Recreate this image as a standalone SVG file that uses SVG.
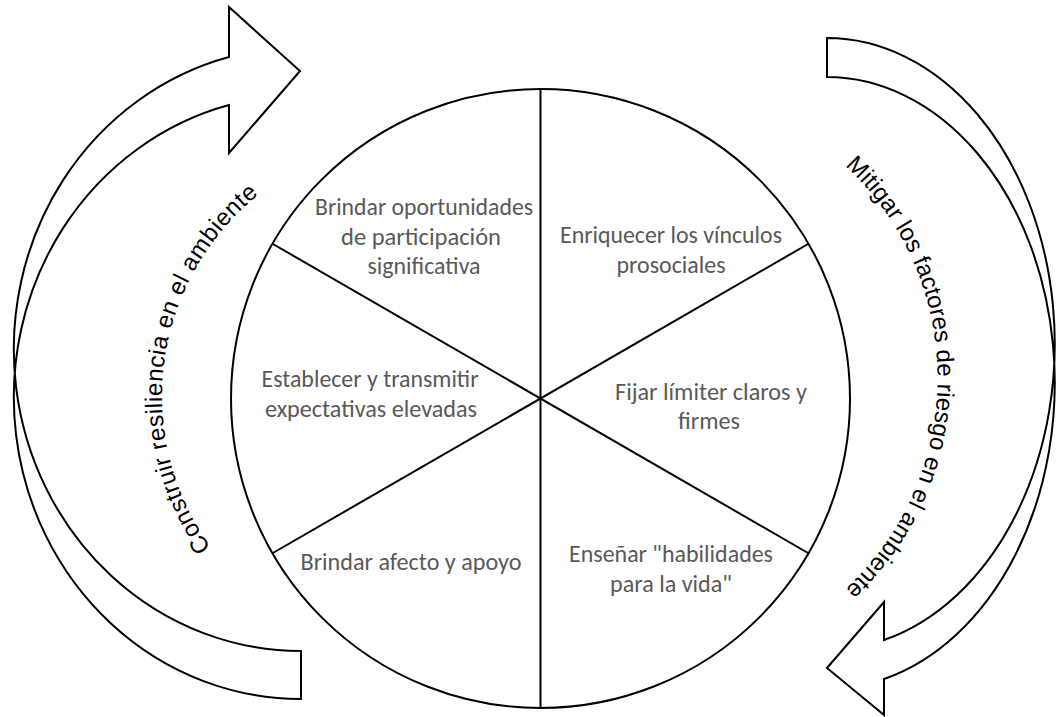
<svg xmlns="http://www.w3.org/2000/svg" width="1059" height="717" viewBox="0 0 1059 717">
<style>
.shape{fill:#ffffff;stroke:#000000;stroke-width:2;stroke-linejoin:miter}
.spoke{fill:none;stroke:#000000;stroke-width:2}
.in{font-family:Carlito,Lato,"Noto Sans",sans-serif;font-size:24px;fill:#595959;text-anchor:middle}
.arc{font-family:"Liberation Sans",Arial,sans-serif;font-size:24px;fill:#000000}
</style>
<defs>
<path id="pl" d="M262.1,600 A258,258 0 0 1 322.3,157.2"/>
<path id="pr" d="M793,127.2 A289,289 0 0 1 793,627.8"/>
</defs>
<rect width="1059" height="717" fill="#ffffff"/>
<g id="connectors">
<g id="arrow-left">
<path class="shape" d="M301,699 A287,301.8 0 0 1 229,105 L229,153 L300,71 L229,7 L229,57 A287,301.8 0 0 0 301,651 Z"/>
<text class="arc" font-size="25" letter-spacing="0.5"><textPath href="#pl" startOffset="50%" text-anchor="middle">Construir resiliencia en el ambiente</textPath></text>
</g>
<g id="arrow-right">
<path class="shape" d="M827,38 A228,305.9 0 0 1 884,640 L884,602 L827,668 L884,715 L884,679 A228,305.9 0 0 0 827,77 Z"/>
<text class="arc" letter-spacing="0.1"><textPath href="#pr" startOffset="50%" text-anchor="middle">Mitigar los factores de riesgo en el ambiente</textPath></text>
</g>
</g>
<g id="wheel">
<circle class="shape" cx="540.5" cy="398.5" r="309.5"/>
<line class="spoke" x1="540.5" y1="89" x2="540.5" y2="708"/>
<line class="spoke" x1="272.5" y1="243.75" x2="808.5" y2="553.25"/>
<line class="spoke" x1="272.5" y1="553.25" x2="808.5" y2="243.75"/>
</g>
<g id="sector-oportunidades">
<text class="in" x="424" y="215" textLength="218" lengthAdjust="spacingAndGlyphs">Brindar oportunidades</text>
<text class="in" x="421" y="244.5" textLength="160" lengthAdjust="spacingAndGlyphs">de participación</text>
<text class="in" x="424" y="273.5" textLength="113" lengthAdjust="spacingAndGlyphs">significativa</text>
</g>
<g id="sector-vinculos">
<text class="in" x="671" y="243" textLength="222" lengthAdjust="spacingAndGlyphs">Enriquecer los vínculos</text>
<text class="in" x="671" y="272.5" textLength="109" lengthAdjust="spacingAndGlyphs">prosociales</text>
</g>
<g id="sector-limites">
<text class="in" x="711" y="399.5" textLength="192" lengthAdjust="spacingAndGlyphs">Fijar límiter claros y</text>
<text class="in" x="709" y="428.5" textLength="62" lengthAdjust="spacingAndGlyphs">firmes</text>
</g>
<g id="sector-expectativas">
<text class="in" x="370" y="387" textLength="217" lengthAdjust="spacingAndGlyphs">Establecer y transmitir</text>
<text class="in" x="371" y="416.5" textLength="212" lengthAdjust="spacingAndGlyphs">expectativas elevadas</text>
</g>
<g id="sector-afecto">
<text class="in" x="411" y="570" textLength="221" lengthAdjust="spacingAndGlyphs">Brindar afecto y apoyo</text>
</g>
<g id="sector-habilidades">
<text class="in" x="671" y="562" textLength="204" lengthAdjust="spacingAndGlyphs">Enseñar "habilidades</text>
<text class="in" x="671" y="591.5" textLength="122" lengthAdjust="spacingAndGlyphs">para la vida"</text>
</g>
</svg>
